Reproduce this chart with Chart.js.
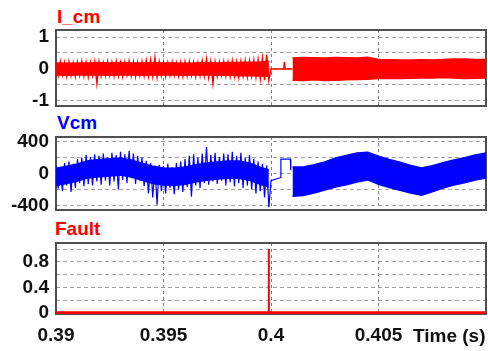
<!DOCTYPE html>
<html>
<head>
<meta charset="utf-8">
<script src="https://cdn.jsdelivr.net/npm/chart.js@4.4.1/dist/chart.umd.min.js"></script>
<style>
  html, body { margin: 0; padding: 0; background: #fff; }
  #wrap { position: relative; width: 488px; height: 351px; overflow: hidden;
          font-family: "Liberation Sans", Arial, sans-serif; font-weight: bold; }
  canvas { position: absolute; left: 0; }
  .ttl { position: absolute; font-size: 19px; line-height: 19px; white-space: nowrap; }
</style>
</head>
<body>
<div id="wrap">
  <div class="ttl" style="left:57px;top:7px;color:#f00">I_cm</div>
  <canvas id="c1" width="488" height="88" style="top:24px"></canvas>
  <div class="ttl" style="left:57px;top:113px;color:#00f">Vcm</div>
  <canvas id="c2" width="488" height="85" style="top:131px"></canvas>
  <div class="ttl" style="left:55px;top:219px;color:#f00">Fault</div>
  <canvas id="c3" width="488" height="114" style="top:237px"></canvas>
  <div class="ttl" style="left:413px;top:326px;color:#111">Time (s)</div>
</div>
<script>
/* ── data ───────────────────────────────────────────────── */

// pre-fault spiky traces are sampled from T0 every DT seconds
const T0 = 0.39, DT = 0.0001;

const icmPre = [
  0.2, -0.2, 0.22, -0.18, 0.19, -0.22, 0.21, -0.2, 0.18, -0.23,
  0.2, -0.19, 0.23, -0.21, 0.2, -0.24, 0.19, -0.2, 0.21, -0.44,
  0.2, -0.22, 0.18, -0.2, 0.22, -0.19, 0.2, -0.21, 0.23, -0.2,
  0.19, -0.22, 0.2, -0.18, 0.24, -0.2, 0.21, -0.23, 0.2, -0.19,
  0.22, -0.2, 0.25, -0.21, 0.27, -0.22, 0.34, -0.25, 0.22, -0.2,
  0.2, -0.22, 0.19, -0.2, 0.21, -0.19, 0.18, -0.21, 0.2, -0.22,
  0.21, -0.2, 0.22, -0.19, 0.2, -0.23, 0.19, -0.2, 0.24, -0.21,
  0.3, -0.25, 0.22, -0.44, 0.21, -0.22, 0.2, -0.19, 0.22, -0.21,
  0.2, -0.23, 0.24, -0.22, 0.21, -0.25, 0.23, -0.21, 0.25, -0.24,
  0.24, -0.22, 0.26, -0.25, 0.28, -0.3, 0.32, -0.35, 0.44, -0.34
];
const icmGapT = [0.4, 0.4006, 0.40062, 0.40066, 0.401];
const icmGapV = [0, 0, 0.22, 0, 0];

const vcmPre = [
  100, -190, 80, -220, 130, -150, 150, -230, 120, -180,
  180, -120, 200, -160, 230, -130, 210, -150, 240, -100,
  220, -140, 250, -90, 200, -150, 260, -100, 230, -200,
  270, -80, 240, -120, 280, -60, 250, -130, 220, -90,
  200, -160, 160, -250, 130, -300, 100, -390, 110, -220,
  90, -250, 120, -180, 80, -260, 130, -200, 150, -230,
  180, -170, 220, -290, 240, -150, 200, -180, 250, -120,
  330, -140, 230, -100, 260, -130, 210, -90, 250, -150,
  240, -110, 270, -160, 220, -120, 260, -180, 200, -150,
  230, -200, 180, -250, 150, -220, 120, -300, 100, -420
];
const vcmGapT = [0.4, 0.40045, 0.40046, 0.4009, 0.40092];
const vcmGapV = [-90, -50, 180, 180, 40];

// pre-fault: dense core of the noisy traces, upper / lower edge
const coreT = [0.39, 0.3905, 0.391, 0.3915, 0.392, 0.3925, 0.393, 0.3935, 0.394, 0.3945,
               0.395, 0.3955, 0.396, 0.3965, 0.397, 0.3975, 0.398, 0.3985, 0.399, 0.3995, 0.3999];
const icmCoreTop = [0.19, 0.18, 0.19, 0.19, 0.2, 0.19, 0.2, 0.19, 0.19, 0.2,
                    0.19, 0.19, 0.18, 0.19, 0.2, 0.19, 0.2, 0.2, 0.21, 0.22, 0.24];
const icmCoreBot = [-0.19, -0.2, -0.19, -0.18, -0.19, -0.2, -0.19, -0.19, -0.2, -0.19,
                    -0.18, -0.19, -0.2, -0.19, -0.19, -0.2, -0.19, -0.21, -0.21, -0.22, -0.24];
const vcmCoreTop = [65, 90, 120, 160, 175, 185, 195, 170, 130, 90,
                    70, 65, 80, 110, 130, 145, 155, 155, 130, 80, 45];
const vcmCoreBot = [-150, -125, -95, -55, -40, -30, -20, -45, -85, -125,
                    -145, -150, -135, -105, -85, -70, -60, -60, -85, -135, -170];

// post-fault: dense switching band, upper / lower envelope
const bandT  = [0.401, 0.4015, 0.402, 0.4025, 0.403, 0.4035, 0.404, 0.4045, 0.405, 0.4055,
                0.406, 0.4065, 0.407, 0.4075, 0.408, 0.4085, 0.409, 0.4095, 0.41];
const icmTop = [0.34, 0.36, 0.35, 0.34, 0.36, 0.35, 0.34, 0.37, 0.3, 0.29,
                0.28, 0.28, 0.29, 0.28, 0.3, 0.31, 0.31, 0.3, 0.3];
const icmBot = [-0.35, -0.36, -0.34, -0.36, -0.35, -0.34, -0.33, -0.32, -0.3, -0.29,
                -0.3, -0.29, -0.28, -0.28, -0.27, -0.28, -0.3, -0.29, -0.28];
const vcmTop = [80, 80, 110, 145, 195, 225, 255, 265, 215, 175,
                140, 100, 70, 97, 135, 169, 198, 231, 255];
const vcmBot = [-285, -275, -245, -205, -170, -140, -105, -80, -135, -175,
                -210, -245, -270, -227, -183, -144, -115, -81, -55];

// fault flag: zero line with one trip pulse
const faultBaseT = [0.39, 0.41];
const faultBaseV = [0, 0];
const faultPulseT = [0.3999, 0.3999];
const faultPulseV = [0, 1];

const xGrid   = [0.39, 0.395, 0.4, 0.405, 0.41];
const xLabels = ["0.39", "0.395", "0.4", "0.405", ""];
const icmGrid = [-1, -0.5, 0, 0.5, 1];
const icmLabels = ["-1", "", "0", "", "1"];
const vcmGrid = [-400, -200, 0, 200, 400];
const vcmLabels = ["-400", "", "0", "", "400"];
const faultGrid = [0, 0.2, 0.4, 0.6, 0.8, 1];
const faultLabels = ["0", "", "0.4", "", "0.8", ""];

/* ── helpers ────────────────────────────────────────────── */
const RED = "#ff0000", BLUE = "#0000ff";
const FONT = { family: "'Liberation Sans', Arial, sans-serif", size: 19, weight: "bold" };

const pts = (xs, ys) => xs.map((x, i) => ({ x, y: ys[i] }));
const sampled = ys => ys.map((y, i) => ({ x: T0 + i * DT, y }));

// filled band = upper edge line + lower edge line filled to it
const band = (xs, top, bot, color) => [
  { data: pts(xs, top), borderColor: color, borderWidth: 1.5, fill: false },
  { data: pts(xs, bot), borderColor: color, borderWidth: 1.5, fill: "-1", backgroundColor: color }
];

// plot frame like the scope box
const frame = {
  id: "frame",
  beforeDatasetsDraw(chart) {
    const { ctx, chartArea: a } = chart;
    ctx.save();
    ctx.strokeStyle = "#505050";
    ctx.lineWidth = 2;
    ctx.strokeRect(a.left, a.top, a.right - a.left, a.bottom - a.top);
    ctx.restore();
  }
};

function panel(id, datasets, y, showX, padBottom) {
  return new Chart(document.getElementById(id), {
    type: "line",
    data: { datasets },
    plugins: [frame],
    options: {
      responsive: false,
      animation: false,
      devicePixelRatio: 1,
      layout: { padding: { top: 6, bottom: padBottom, left: 0, right: 2 } },
      plugins: { legend: { display: false }, tooltip: { enabled: false } },
      elements: { point: { radius: 0 }, line: { tension: 0 } },
      scales: {
        x: {
          type: "linear", min: 0.39, max: 0.41, bounds: "data",
          afterBuildTicks: s => { s.ticks = xGrid.map(value => ({ value })); },
          grid: { color: "#808080", lineWidth: 1, drawTicks: false },
          border: { display: false, dash: [3, 3] },
          ticks: {
            display: showX, autoSkip: false, maxRotation: 0, padding: 10,
            color: "#111", font: FONT,
            callback: (v, i) => xLabels[i]
          },
          afterFit: s => { s.height = showX ? 37 : 0; s.paddingLeft = 0; s.paddingRight = 0; }
        },
        y: {
          type: "linear", min: y.min, max: y.max, bounds: "data",
          afterBuildTicks: s => { s.ticks = y.grid.map(value => ({ value })); },
          grid: { color: "#a0a0a0", lineWidth: 1, drawTicks: false },
          border: { display: false, dash: [4, 3] },
          ticks: {
            autoSkip: false, padding: 7, color: "#111", font: FONT,
            callback: (v, i) => y.labels[i]
          },
          afterFit: s => { s.width = 56; s.paddingTop = 0; s.paddingBottom = 0; }
        }
      }
    }
  });
}

/* ── I_cm ───────────────────────────────────────────────── */
panel("c1", [
  ...band(coreT, icmCoreTop, icmCoreBot, RED),
  { data: sampled(icmPre).concat(pts(icmGapT, icmGapV)), borderColor: RED, borderWidth: 1.5, fill: false },
  ...band(bandT, icmTop, icmBot, RED)
], { min: -1.16, max: 1.22, grid: icmGrid, labels: icmLabels }, false, 6);

/* ── Vcm ────────────────────────────────────────────────── */
panel("c2", [
  ...band(coreT, vcmCoreTop, vcmCoreBot, BLUE),
  { data: sampled(vcmPre).concat(pts(vcmGapT, vcmGapV)), borderColor: BLUE, borderWidth: 1.2, fill: false },
  ...band(bandT, vcmTop, vcmBot, BLUE)
], { min: -456, max: 456, grid: vcmGrid, labels: vcmLabels }, false, 6);

/* ── Fault ──────────────────────────────────────────────── */
panel("c3", [
  { data: pts(faultBaseT, faultBaseV), borderColor: RED, borderWidth: 3.5, fill: false },
  { data: pts(faultPulseT, faultPulseV), borderColor: RED, borderWidth: 2, fill: false }
], { min: -0.016, max: 1.094, grid: faultGrid, labels: faultLabels }, true, 0);
</script>
</body>
</html>
